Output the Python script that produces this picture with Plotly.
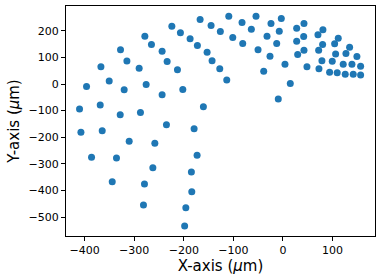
import plotly.graph_objects as go

x_um = [-167.1, -145.0, -126.3, -224.1, -206.8, -187.3, -172.6, -153.0, -143.0, -127.5,
        -278.5, -265.2, -243.7, -233.6, -212.8, -202.0, -160.5, -327.6, -314.7, -290.0,
        -275.9, -243.7, -320.2, -367.1, -350.4, -396.1, -410.2, -368.5, -328.2, -287.4,
        -235.0, -179.2, -407.4, -364.5, -310.1, -258.4, -386.0, -335.7, -173.2, -262.4,
        -184.7, -344.3, -279.3, -183.9, -281.3, -195.9, -198.3,
        -109.3, -54.4, -3.4, -82.6, -63.8, -24.2, -7.5, 27.6, 42.3, -101.3, -81.2, -32.2,
        -12.7, 27.6, 41.7, 70.5, 80.5, -113.4, -50.3, -26.2, -38.9, 4.0, 14.7, -9.5,
        29.6, 42.3, 48.3, 71.9, 79.9, 104.1, 111.4, 134.3, 78.5, 72.5, 106.1, 126.9,
        149.0, 99.3, 121.4, 139.0, 156.5, 94.0, 109.3, 125.5, 141.6, 156.5]
y_um = [242.4, 219.8, 197.1, 217.1, 192.2, 169.6, 144.4, 119.1, 87.8, 57.7,
        179.4, 148.1, 122.9, 84.1, 53.9, -20.4, -85.6, 128.2, 86.7, 58.8,
        -1.5, -40.3, -21.5, 65.2, 11.3, -9.0, -94.2, -79.2, -115.7, -107.1,
        -153.4, -168.5, -180.9, -176.0, -214.9, -222.4, -275.2, -277.8, -267.6, -314.4,
        -330.6, -367.1, -375.8, -404.8, -455.0, -465.1, -533.0,
        254.8, 254.8, 246.1, 231.1, 205.8, 227.3, 198.3, 209.6, 227.3, 174.5, 151.9, 179.4,
        151.9, 160.6, 178.3, 184.7, 203.5, 15.1, 128.2, 104.0, 47.5, 73.9, 2.3, -56.5,
        110.4, 126.6, 65.2, 126.6, 148.1, 150.8, 171.9, 138.0, 87.8, 57.7, 113.1, 114.2,
        102.9, 85.2, 73.9, 73.9, 66.3, 43.7, 42.6, 36.2, 36.2, 33.9]

x_ticks = [-400, -300, -200, -100, 0, 100]
y_ticks = [200, 100, 0, -100, -200, -300, -400, -500]

fig = go.Figure(go.Scatter(
    x=x_um, y=y_um, mode="markers",
    marker=dict(color="#1f77b4", size=7, line=dict(width=0)),
    cliponaxis=False,
))

axis_common = dict(
    showgrid=False, zeroline=False, showline=True, linecolor="black", linewidth=1,
    mirror=True, ticks="outside", ticklen=4, tickcolor="black", tickwidth=1,
    tickfont=dict(family="DejaVu Sans", size=11, color="black"),
    automargin=False,
)

fig.update_layout(
    width=381, height=280,
    margin=dict(l=66, r=6, t=6, b=44),
    paper_bgcolor="white", plot_bgcolor="white",
    showlegend=False,
    font=dict(family="DejaVu Sans", color="black"),
    xaxis=dict(axis_common, range=[-437.5, 185.5], tickvals=x_ticks,
               ticktext=[str(v).replace("-", "\u2212") for v in x_ticks],
               title=dict(text="X-axis (<i>\u03bc</i>m)", font=dict(size=15), standoff=3)),
    yaxis=dict(axis_common, range=[-571, 293], tickvals=y_ticks,
               ticktext=[str(v).replace("-", "\u2212") for v in y_ticks],
               title=dict(text="Y-axis (<i>\u03bc</i>m)", font=dict(size=15), standoff=5)),
)

fig.write_html("out.html", config={"displayModeBar": False},
               post_script="document.body.style.margin='0px';")
